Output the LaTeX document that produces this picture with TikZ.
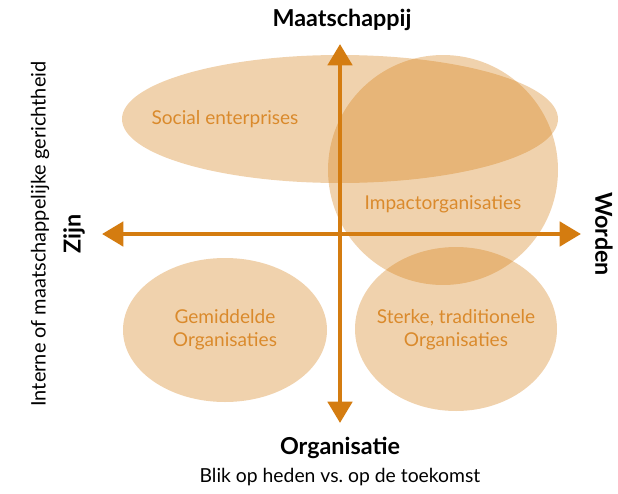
\documentclass[tikz,border=0pt]{standalone}
\usepackage{fontspec}
\setmainfont{Lato}
\usetikzlibrary{arrows.meta}

\definecolor{oranje}{RGB}{212,124,16}
\definecolor{tekst}{RGB}{218,138,44}

\begin{document}
\begin{tikzpicture}[x=0.75pt, y=-0.75pt,
  blob/.style={fill=oranje, fill opacity=0.34, draw=none},
  lbl/.style={text=tekst, align=center, font=\fontsize{14.3}{17}\selectfont},
  axis/.style={draw=oranje, line width=3.6pt,
    {Triangle[length=16pt, width=18pt]}-{Triangle[length=16pt, width=18pt]}},
  pole/.style={font=\fontsize{17.5}{20}\selectfont\bfseries}]
  \useasboundingbox (0,0) rectangle (618,493);

  % kwadranten
  \fill[blob] (340,119) ellipse[x radius=218, y radius=64];
  \fill[blob] (443,170) circle[radius=115];
  \fill[blob] (225,330) ellipse[x radius=102, y radius=72];
  \fill[blob] (456,329) ellipse[x radius=101, y radius=82];

  \node[lbl] (soc) at (225,119) {Social enterprises};
  \node[lbl] (imp) at (443,204) {Impactorganisaties};
  \node[lbl] (gem) at (225,330) {Gemiddelde\\Organisaties};
  \node[lbl] (stk) at (456,330) {Sterke, traditionele\\Organisaties};

  % assen
  \coordinate (top) at (340,44);
  \coordinate (bot) at (340,423);
  \coordinate (lft) at (102,234);
  \coordinate (rgt) at (581,234);
  \draw[axis] (lft) -- (rgt);
  \draw[axis] (bot) -- (top);

  \node[pole] (maat) at (342,20) {Maatschappij};
  \node[pole] (org) at (340,448) {Organisatie};
  \node[pole, rotate=90] (zijn) at (74,234) {Zijn};
  \node[pole, rotate=-90] (word) at (604,234) {Worden};

  \node[font=\fontsize{14.5}{17}\selectfont] (blik) at (340,477)
    {Blik op heden vs.\ op de toekomst};
  \node[font=\fontsize{15}{17}\selectfont, rotate=90] (intern) at (40,234)
    {Interne of maatschappelijke gerichtheid};
\end{tikzpicture}
\end{document}
